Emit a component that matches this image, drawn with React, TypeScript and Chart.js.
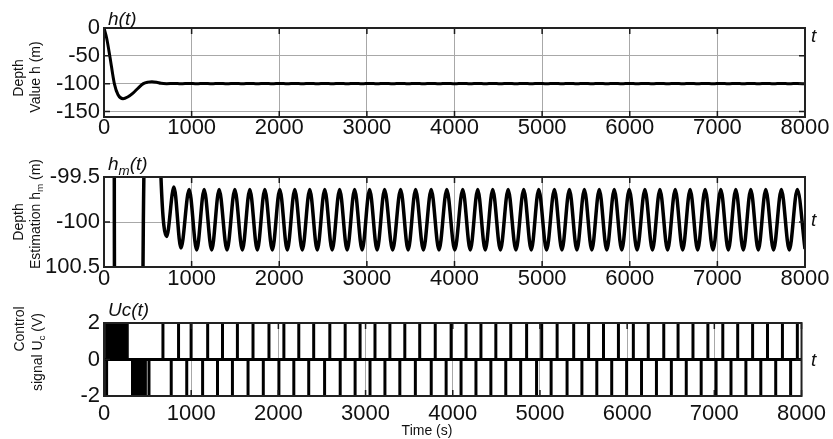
import React, { useEffect, useRef } from "react";
import { Chart, registerables } from "chart.js";

Chart.register(...registerables);

const FONT = '"Liberation Sans", Arial, Helvetica, sans-serif';
const W = 833;
const H = 439;
const PLOT_LEFT = 104;
const PLOT_RIGHT = 805;

// ---------------- data ----------------
const xTickValues = [0, 1000, 2000, 3000, 4000, 5000, 6000, 7000, 8000];

const depthTickValues = [0, -50, -100, -150];
const estTickValues = [-99.5, -100, -100.5];
const estTickLabels = ["-99.5", "-100", "100.5"];
const ctrlTickValues = [2, 0, -2];

// depth h(t): transient part (s, m)
const transientT = [0, 30, 68, 118, 160, 217, 270, 331, 390, 449, 500, 547, 600, 650];
const transientV = [0, -18, -52, -100, -120, -127, -124, -117, -108, -100, -97.3, -96.5, -97.5, -99.5];

// steady oscillation: troughs and peaks (s, m)
const troughT = [715, 878, 1058, 1229, 1404, 1579, 1750, 1921, 2092, 2263, 2434, 2604, 2775, 2946, 3117, 3294, 3471, 3645, 3823, 4003, 4180, 4351, 4524, 4701, 4876, 5051, 5226, 5397, 5567, 5738, 5909, 6084, 6259, 6432, 6604, 6775, 6950, 7125, 7296, 7467, 7641, 7821, 8000];
const troughV = [-100.16, -100.29, -100.31, -100.31, -100.31, -100.31, -100.31, -100.31, -100.31, -100.31, -100.31, -100.31, -100.31, -100.31, -100.31, -100.31, -100.31, -100.31, -100.31, -100.31, -100.31, -100.31, -100.31, -100.31, -100.31, -100.31, -100.31, -100.31, -100.31, -100.31, -100.31, -100.31, -100.31, -100.31, -100.31, -100.31, -100.31, -100.31, -100.31, -100.31, -100.31, -100.31, -100.3];
const peakT = [798, 972, 1143, 1314, 1493, 1664, 1835, 2006, 2177, 2348, 2519, 2689, 2860, 3031, 3202, 3385, 3556, 3734, 3912, 4094, 4265, 4436, 4612, 4790, 4961, 5140, 5311, 5482, 5652, 5823, 5994, 6173, 6344, 6519, 6689, 6860, 7039, 7210, 7381, 7552, 7730, 7912];
const peakV = [-99.61, -99.64, -99.64, -99.64, -99.64, -99.64, -99.64, -99.64, -99.64, -99.64, -99.64, -99.64, -99.64, -99.64, -99.64, -99.64, -99.64, -99.64, -99.64, -99.64, -99.64, -99.64, -99.64, -99.64, -99.64, -99.64, -99.64, -99.64, -99.64, -99.64, -99.64, -99.64, -99.64, -99.64, -99.64, -99.64, -99.64, -99.64, -99.64, -99.64, -99.64, -99.64];

// control signal Uc(t): chattering blocks [start, end] and pulse instants (s)
const chatterUpT = [15, 274];
const chatterDownT = [316, 486];
const pulseUpT = [676, 855, 999, 1189, 1359, 1530, 1709, 1892, 2063, 2234, 2405, 2590, 2766, 2937, 3108, 3279, 3450, 3621, 3799, 3981, 4152, 4323, 4494, 4665, 4847, 5020, 5197, 5387, 5558, 5729, 5900, 6071, 6242, 6420, 6584, 6755, 6926, 7097, 7268, 7439, 7610, 7781, 7952];
const pulseDownT = [30, 516, 771, 949, 1131, 1302, 1473, 1652, 1827, 2006, 2177, 2348, 2530, 2709, 2880, 3051, 3222, 3393, 3571, 3753, 3924, 4095, 4266, 4437, 4608, 4779, 4961, 5128, 5311, 5481, 5652, 5823, 5994, 6165, 6336, 6507, 6678, 6849, 7020, 7191, 7362, 7533, 7704, 7875];
const CTRL_LEVEL = 2;

// ---------------- builders ----------------
function depthSeries() {
  const pts: { x: number; y: number }[] = [];
  transientT.forEach((t, i) => pts.push({ x: t, y: transientV[i] }));
  troughT.forEach((t, i) => pts.push({ x: t, y: troughV[i] }));
  peakT.forEach((t, i) => pts.push({ x: t, y: peakV[i] }));
  pts.sort((a, b) => a.x - b.x);
  return pts;
}

function pulseSeries() {
  const ev: { t: number; s: number }[] = [];
  pulseUpT.forEach((t) => ev.push({ t, s: 1 }));
  pulseDownT.forEach((t) => ev.push({ t, s: -1 }));
  ev.sort((a, b) => a.t - b.t);
  const pts: { x: number; y: number }[] = [{ x: 0, y: 0 }];
  ev.forEach((e) => {
    pts.push({ x: e.t, y: 0 });
    pts.push({ x: e.t, y: e.s * CTRL_LEVEL });
    pts.push({ x: e.t, y: 0 });
  });
  pts.push({ x: 8000, y: 0 });
  return pts;
}

function blockSeries(range: number[], sign: number) {
  return [
    { x: range[0], y: 0 },
    { x: range[0], y: sign * CTRL_LEVEL },
    { x: range[1], y: sign * CTRL_LEVEL },
    { x: range[1], y: 0 },
  ];
}

// ---------------- text helpers ----------------
type Part = { t: string; sub?: boolean };

function drawRich(ctx: CanvasRenderingContext2D, parts: Part[], x: number, y: number, size: number, italic: boolean, center: boolean) {
  const f = (s: number) => `${italic ? "italic " : ""}${s}px ${FONT}`;
  const widths = parts.map((p) => {
    ctx.font = f(p.sub ? size * 0.7 : size);
    return ctx.measureText(p.t).width;
  });
  const total = widths.reduce((a, b) => a + b, 0);
  let cx = center ? x - total / 2 : x;
  ctx.textAlign = "left";
  parts.forEach((p, i) => {
    ctx.font = f(p.sub ? size * 0.7 : size);
    ctx.fillText(p.t, cx, y + (p.sub ? size * 0.28 : 0));
    cx += widths[i];
  });
}

type Panel = {
  top: number;
  height: number;
  plotTop: number;
  plotBottom: number;
  yMin: number;
  yMax: number;
  yTicks: number[];
  yLabel: (v: number) => string;
  xPad: number;
  datasets: any[];
  title: Part[];
  titleBase: number;
  tBase: number;
  yTitles: { parts: Part[]; x: number; y: number }[];
  xTitle?: { text: string; x: number; y: number };
};

function makeDecor(p: Panel) {
  return {
    id: "decor",
    afterDraw(chart: any) {
      const { ctx, chartArea: a, scales } = chart;
      const off = p.top;
      ctx.save();
      // inner tick marks
      ctx.strokeStyle = "#1a1a1a";
      ctx.lineWidth = 1.5;
      ctx.beginPath();
      xTickValues.forEach((v) => {
        const px = scales.x.getPixelForValue(v);
        ctx.moveTo(px, a.top);
        ctx.lineTo(px, a.top + 6);
        ctx.moveTo(px, a.bottom);
        ctx.lineTo(px, a.bottom - 6);
      });
      p.yTicks.forEach((v) => {
        const py = scales.y.getPixelForValue(v);
        ctx.moveTo(a.left, py);
        ctx.lineTo(a.left + 6, py);
        ctx.moveTo(a.right, py);
        ctx.lineTo(a.right - 6, py);
      });
      ctx.stroke();
      // box
      ctx.lineWidth = 2;
      ctx.strokeStyle = "#222";
      ctx.strokeRect(a.left, a.top, a.right - a.left, a.bottom - a.top);
      // titles
      ctx.fillStyle = "#111";
      ctx.textBaseline = "alphabetic";
      drawRich(ctx, p.title, 108, p.titleBase - off, 19, true, false);
      drawRich(ctx, [{ t: "t" }], 811, p.tBase - off, 19, true, false);
      // y axis titles (rotated)
      ctx.textBaseline = "middle";
      p.yTitles.forEach((yt) => {
        ctx.save();
        ctx.translate(yt.x, yt.y - off);
        ctx.rotate(-Math.PI / 2);
        drawRich(ctx, yt.parts, 0, 0, 14, false, true);
        ctx.restore();
      });
      if (p.xTitle) {
        ctx.font = `14px ${FONT}`;
        ctx.textAlign = "center";
        ctx.fillText(p.xTitle.text, p.xTitle.x, p.xTitle.y - off);
      }
      ctx.restore();
    },
  };
}

function ChartPanel({ panel }: { panel: Panel }) {
  const ref = useRef<HTMLCanvasElement | null>(null);
  useEffect(() => {
    if (!ref.current) return;
    const p = panel;
    const tickFont = { family: FONT, size: 22, lineHeight: 1 };
    const chart = new Chart(ref.current, {
      type: "line",
      data: { datasets: p.datasets },
      options: {
        responsive: false,
        animation: false,
        events: [],
        layout: { padding: { top: p.plotTop - p.top, right: W - PLOT_RIGHT, left: 0, bottom: 0 } },
        plugins: { legend: { display: false }, tooltip: { enabled: false }, title: { display: false } },
        elements: { point: { radius: 0 } },
        scales: {
          x: {
            type: "linear",
            min: 0,
            max: 8000,
            afterBuildTicks: (s: any) => {
              s.ticks = xTickValues.map((v) => ({ value: v }));
            },
            ticks: { font: tickFont, color: "#111", padding: p.xPad, maxRotation: 0, autoSkip: false, callback: (v: any) => String(v) },
            grid: { color: "#a8a8a8", lineWidth: 1, drawTicks: false },
            border: { display: false },
            afterFit: (s: any) => {
              s.height = p.top + p.height - p.plotBottom;
            },
          },
          y: {
            type: "linear",
            min: p.yMin,
            max: p.yMax,
            afterBuildTicks: (s: any) => {
              s.ticks = p.yTicks.map((v) => ({ value: v }));
            },
            ticks: { font: tickFont, color: "#111", padding: 4, autoSkip: false, callback: (v: any) => p.yLabel(Number(v)) },
            grid: { color: "#a8a8a8", lineWidth: 1, drawTicks: false },
            border: { display: false },
            afterFit: (s: any) => {
              s.width = PLOT_LEFT;
            },
          },
        },
      } as any,
      plugins: [makeDecor(p)],
    } as any);
    return () => chart.destroy();
  }, [panel]);
  return (
    <canvas
      ref={ref}
      width={W}
      height={panel.height}
      style={{ position: "absolute", left: 0, top: panel.top, width: W, height: panel.height }}
    />
  );
}

const depth = depthSeries();

const panels: Panel[] = [
  {
    top: 0,
    height: 150,
    plotTop: 28,
    plotBottom: 117,
    yMin: -160,
    yMax: 0,
    yTicks: depthTickValues,
    yLabel: (v) => String(v),
    xPad: 0,
    datasets: [
      { data: depth, borderColor: "#000", borderWidth: 3, cubicInterpolationMode: "monotone", pointRadius: 0, fill: false, clip: 1 },
    ],
    title: [{ t: "h(t)" }],
    titleBase: 25,
    tBase: 42,
    yTitles: [
      { parts: [{ t: "Depth" }], x: 19, y: 78 },
      { parts: [{ t: "Value h (m)" }], x: 36, y: 77 },
    ],
  },
  {
    top: 145,
    height: 150,
    plotTop: 177,
    plotBottom: 267,
    yMin: -100.5,
    yMax: -99.5,
    yTicks: estTickValues,
    yLabel: (v) => {
      const i = estTickValues.findIndex((e) => Math.abs(e - v) < 1e-6);
      return i >= 0 ? estTickLabels[i] : String(v);
    },
    xPad: 1,
    datasets: [
      { data: depth, borderColor: "#000", borderWidth: 3.5, cubicInterpolationMode: "monotone", pointRadius: 0, fill: false, clip: 0 },
    ],
    title: [{ t: "h" }, { t: "m", sub: true }, { t: "(t)" }],
    titleBase: 170,
    tBase: 226,
    yTitles: [
      { parts: [{ t: "Depth" }], x: 19, y: 222 },
      { parts: [{ t: "Estimation h" }, { t: "m", sub: true }, { t: " (m)" }], x: 36, y: 214 },
    ],
  },
  {
    top: 290,
    height: 149,
    plotTop: 323,
    plotBottom: 396,
    yMin: -2,
    yMax: 2,
    yTicks: ctrlTickValues,
    yLabel: (v) => String(v),
    xPad: 7,
    datasets: [
      { data: pulseSeries(), borderColor: "#000", borderWidth: 3, tension: 0, pointRadius: 0, fill: false, clip: 0 },
      { data: blockSeries(chatterUpT, 1), borderColor: "#000", backgroundColor: "#000", borderWidth: 1, tension: 0, pointRadius: 0, fill: "origin", clip: 0 },
      { data: blockSeries(chatterDownT, -1), borderColor: "#000", backgroundColor: "#000", borderWidth: 1, tension: 0, pointRadius: 0, fill: "origin", clip: 0 },
    ],
    title: [{ t: "Uc(t)" }],
    titleBase: 316,
    tBase: 366,
    yTitles: [
      { parts: [{ t: "Control" }], x: 20, y: 329 },
      { parts: [{ t: "signal U" }, { t: "c", sub: true }, { t: " (V)" }], x: 38, y: 352 },
    ],
    xTitle: { text: "Time (s)", x: 427, y: 431 },
  },
];

export default function App() {
  return (
    <div style={{ position: "absolute", left: 0, top: 0, width: W, height: H, background: "#fff", overflow: "hidden" }}>
      {panels.map((p, i) => (
        <ChartPanel key={i} panel={p} />
      ))}
    </div>
  );
}
